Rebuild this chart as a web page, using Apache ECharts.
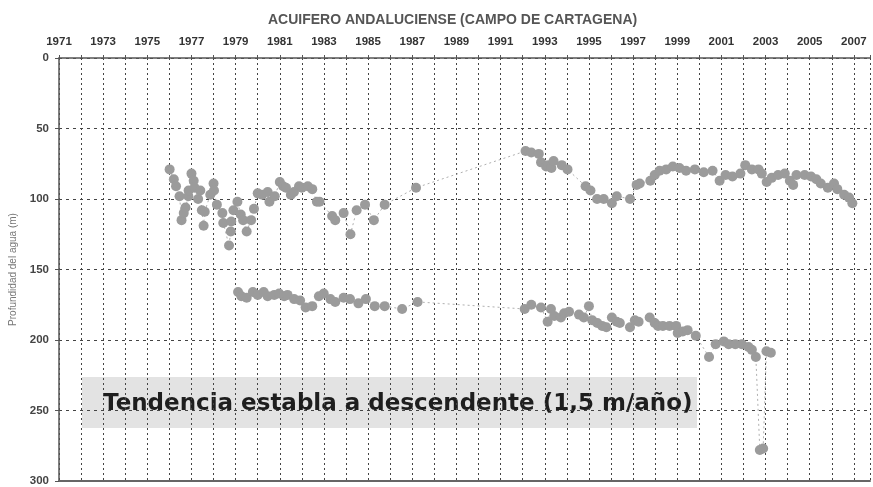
<!DOCTYPE html>
<html>
<head>
<meta charset="utf-8">
<script src="https://cdn.jsdelivr.net/npm/echarts@6/dist/echarts.min.js"></script>
<style>
  html, body { margin: 0; padding: 0; background: #fff; }
  #chart { width: 873px; height: 487px; }
</style>
</head>
<body>
<div id="chart"></div>
<script>
// tick labels shown on the top axis
const yearLabels = [1971, 1973, 1975, 1977, 1979, 1981, 1983, 1985, 1987, 1989,
  1991, 1993, 1995, 1997, 1999, 2001, 2003, 2005, 2007];

// upper record (depth, m)
const upperYears = [1976.01, 1976.2, 1976.3, 1976.46, 1976.55, 1976.65, 1976.73, 1976.86, 1976.87,
  1977.0, 1977.1, 1977.14, 1977.3, 1977.4, 1977.47, 1977.55, 1977.6, 1977.85,
  1978.0, 1978.02, 1978.15, 1978.4, 1978.44, 1978.7, 1978.78, 1978.8, 1978.9,
  1979.08, 1979.23, 1979.34, 1979.5, 1979.7, 1979.83,
  1980.0, 1980.2, 1980.45, 1980.53, 1980.77,
  1981.0, 1981.15, 1981.28, 1981.5, 1981.64, 1981.87,
  1982.0, 1982.27, 1982.47, 1982.68, 1982.8,
  1983.37, 1983.51, 1983.89, 1984.2, 1984.48, 1984.86, 1985.26, 1985.75, 1987.17,
  1992.13, 1992.39, 1992.73, 1992.83, 1993.06, 1993.16, 1993.3, 1993.4, 1993.77, 1994.03,
  1994.85, 1995.07, 1995.37, 1995.67, 1996.04, 1996.26, 1996.86,
  1997.16, 1997.3, 1997.78, 1997.98, 1998.2, 1998.5, 1998.8, 1999.1, 1999.4, 1999.8,
  2000.2, 2000.6, 2000.92, 2001.19, 2001.5, 2001.86, 2002.08, 2002.38, 2002.68, 2002.83,
  2003.05, 2003.28, 2003.57, 2003.87, 2004.1, 2004.25, 2004.4, 2004.77,
  2005.06, 2005.3, 2005.5, 2005.82, 2006.1, 2006.25, 2006.56, 2006.78, 2006.93];
const upperDepth = [79, 86, 91, 98, 115, 110, 106, 98, 94,
  82, 87, 92, 100, 94, 108, 119, 109, 97,
  89, 94, 104, 110, 117, 133, 123, 116, 108,
  102, 111, 115, 123, 115, 107,
  96, 97, 95, 102, 98,
  88, 91, 92, 97, 95, 91,
  92, 91, 93, 102, 102,
  112, 115, 110, 125, 108, 104, 115, 104, 92,
  66, 67, 68, 74, 77, 76, 78, 73, 76, 79,
  91, 94, 100, 100, 103, 98, 100,
  90, 89, 87, 83, 80, 79, 77, 78, 80, 79,
  81, 80, 87, 83, 84, 82, 76, 79, 79, 82,
  88, 85, 83, 82, 87, 90, 83, 83,
  84, 86, 89, 92, 89, 93, 97, 99, 103];

// lower record (depth, m)
const lowerYears = [1979.11, 1979.26, 1979.5, 1979.78, 1980.0, 1980.27, 1980.45, 1980.75, 1980.97,
  1981.2, 1981.35, 1981.65, 1981.92, 1982.17, 1982.47, 1982.77, 1982.99,
  1983.29, 1983.51, 1983.89, 1984.18, 1984.56, 1984.9, 1985.3, 1985.75, 1986.54, 1987.24,
  1992.09, 1992.39, 1992.83, 1993.13, 1993.28, 1993.43, 1993.73, 1993.88, 1994.1, 1994.55, 1994.77,
  1995.0, 1995.15, 1995.38, 1995.6, 1995.79, 1996.04, 1996.26, 1996.4, 1996.86,
  1997.08, 1997.25, 1997.75, 1997.98, 1998.13, 1998.35, 1998.65, 1998.95,
  1999.02, 1999.25, 1999.47, 1999.84, 2000.44, 2000.74, 2001.11, 2001.33, 2001.63, 2001.93,
  2002.23, 2002.38, 2002.56, 2002.74, 2002.89, 2003.04, 2003.24];
const lowerDepth = [166, 169, 170, 166, 168, 166, 169, 168, 167,
  169, 168, 171, 172, 177, 176, 169, 167,
  171, 173, 170, 171, 174, 171, 176, 176, 178, 173,
  178, 175, 177, 187, 178, 183, 184, 181, 180, 182, 184,
  176, 186, 188, 190, 191, 184, 187, 188, 191,
  186, 187, 184, 188, 190, 190, 190, 190,
  195, 194, 193, 197, 212, 203, 201, 203, 203, 203,
  205, 207, 212, 278, 277, 208, 209];

const pairs = (xs, ys) => xs.map((x, i) => [x, ys[i]]);

const chart = echarts.init(document.getElementById('chart'));

const dotSeries = (name, data) => ({
  name: name,
  type: 'line',
  data: data,
  symbol: 'circle',
  symbolSize: 10,
  showSymbol: true,
  itemStyle: { color: '#9b9b9b' },
  lineStyle: { color: '#b0b0b0', width: 1, type: [2, 3] },
  animation: false,
  silent: true
});

chart.setOption({
  backgroundColor: '#fff',
  title: {
    text: 'ACUIFERO ANDALUCIENSE (CAMPO DE CARTAGENA)',
    left: 263,
    top: 8,
    textStyle: { fontFamily: 'Liberation Sans', fontSize: 14, fontWeight: 'bold', color: '#555' }
  },
  grid: { left: 52, right: 0, top: 58, bottom: 3 },
  xAxis: [{
    type: 'value',
    position: 'top',
    min: 1971,
    max: 2007.73,
    interval: 1,
    axisLine: { show: true, lineStyle: { color: '#555', width: 1.5 } },
    axisTick: { show: true, inside: false, length: 3, lineStyle: { color: '#555' } },
    axisLabel: {
      margin: 10,
      fontFamily: 'Liberation Sans',
      fontSize: 11.5,
      fontWeight: 'bold',
      color: '#333',
      formatter: v => (yearLabels.indexOf(v) >= 0 ? String(v) : '')
    },
    splitLine: { show: true, lineStyle: { color: '#444', width: 1, type: [2, 3] } }
  }, {
    type: 'value',
    position: 'bottom',
    min: 1971,
    max: 2007.73,
    axisLine: { show: true, lineStyle: { color: '#666', width: 2 } },
    axisTick: { show: false },
    axisLabel: { show: false },
    splitLine: { show: false }
  }],
  yAxis: {
    type: 'value',
    inverse: true,
    min: 0,
    max: 300,
    interval: 50,
    name: 'Profundidad del agua (m)',
    nameLocation: 'middle',
    nameRotate: 90,
    nameGap: 41,
    nameTextStyle: { fontFamily: 'Liberation Sans', fontSize: 10, color: '#777' },
    axisLine: { show: true, lineStyle: { color: '#555', width: 1.5 } },
    axisTick: { show: true, length: 4, lineStyle: { color: '#555' } },
    axisLabel: { fontFamily: 'Liberation Sans', fontSize: 11.5, fontWeight: 'bold', color: '#444', margin: 10 },
    splitLine: { show: true, lineStyle: { color: '#444', width: 1, type: [3, 4] } }
  },
  graphic: [{
    type: 'group',
    left: 82,
    top: 377,
    z: 50,
    children: [{
      type: 'rect',
      shape: { x: 0, y: 0, width: 615, height: 51 },
      style: { fill: '#e3e3e3' }
    }, {
      type: 'text',
      x: 21,
      y: 27,
      style: {
        text: 'Tendencia establa a descendente (1,5 m/año)',
        font: 'bold 23px "DejaVu Sans"',
        fill: '#1e1e1e',
        verticalAlign: 'middle'
      }
    }]
  }],
  series: [
    dotSeries('Superior', pairs(upperYears, upperDepth)),
    dotSeries('Inferior', pairs(lowerYears, lowerDepth))
  ]
});
</script>
</body>
</html>
